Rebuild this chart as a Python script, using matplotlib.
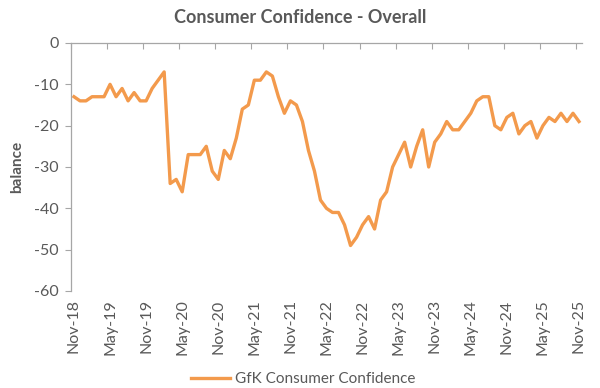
import numpy as np
import matplotlib.pyplot as plt
from matplotlib.ticker import FixedLocator

# monthly GfK consumer confidence balance, Nov-18 .. Nov-25
gfk_values = [
    -13, -14, -14, -13, -13, -13, -10, -13, -11, -14, -12, -14,   # Nov-18 .. Oct-19
    -14, -11, -9, -7, -34, -33, -36, -27, -27, -27, -25, -31,      # Nov-19 .. Oct-20
    -33, -26, -28, -23, -16, -15, -9, -9, -7, -8, -13, -17,        # Nov-20 .. Oct-21
    -14, -15, -19, -26, -31, -38, -40, -41, -41, -44, -49, -47,    # Nov-21 .. Oct-22
    -44, -42, -45, -38, -36, -30, -27, -24, -30, -25, -21, -30,    # Nov-22 .. Oct-23
    -24, -22, -19, -21, -21, -19, -17, -14, -13, -13, -20, -21,    # Nov-23 .. Oct-24
    -18, -17, -22, -20, -19, -23, -20, -18, -19, -17, -19, -17,    # Nov-24 .. Oct-25
    -19,                                                           # Nov-25
]
tick_labels = ['Nov-18', 'May-19', 'Nov-19', 'May-20', 'Nov-20', 'May-21', 'Nov-21',
               'May-22', 'Nov-22', 'May-23', 'Nov-23', 'May-24', 'Nov-24', 'May-25', 'Nov-25']
y_ticks = [0, -10, -20, -30, -40, -50, -60]

LINE_COLOR = '#F39A4C'
TEXT_COLOR = '#595959'
AXIS_COLOR = '#A6A6A6'

plt.rcParams['font.family'] = ['Lato', 'DejaVu Sans']

fig = plt.figure(figsize=(6, 3.88), dpi=100)
ax = fig.add_axes([0.1183, 0.25, 0.8517, 0.6392])

x = np.arange(len(gfk_values))
line, = ax.plot(x, gfk_values, color=LINE_COLOR, linewidth=2.4,
                solid_joinstyle='round', label='GfK Consumer Confidence')

ax.set_xlim(-0.5, len(gfk_values) - 0.5)
ax.set_ylim(-60, 0)

# labels at category centres, tick marks on category boundaries along the zero line
ax.xaxis.set_major_locator(FixedLocator(x[::6]))
ax.set_xticklabels(tick_labels, rotation=90, fontsize=11.5, color=TEXT_COLOR)
ax.xaxis.set_minor_locator(FixedLocator(x[::6] - 0.5))
ax.tick_params(axis='x', which='major', length=0, pad=6, bottom=False, top=False)
ax.tick_params(axis='x', which='minor', length=4.5, width=0.8, color=AXIS_COLOR,
               bottom=False, top=True, direction='in')

ax.set_yticks(y_ticks)
ax.set_yticklabels([str(v) for v in y_ticks], fontsize=11.5, color=TEXT_COLOR)
ax.tick_params(axis='y', which='major', length=4, width=0.8, color=AXIS_COLOR, pad=5)

for side in ['bottom', 'right']:
    ax.spines[side].set_visible(False)
for side in ['top', 'left']:
    ax.spines[side].set_color(AXIS_COLOR)
    ax.spines[side].set_linewidth(0.9)

ax.set_ylabel('balance', fontsize=11, fontweight='bold', color=TEXT_COLOR, labelpad=7)
fig.suptitle('Consumer Confidence - Overall', x=0.5, y=0.978, fontsize=13,
             fontweight='bold', color=TEXT_COLOR)

fig.legend(handles=[line], loc='center', bbox_to_anchor=(0.505, 0.022), frameon=False,
           fontsize=11, labelcolor=TEXT_COLOR, handlelength=2.6, handletextpad=0.3)

fig.savefig('out.png', dpi=100, facecolor='white')
